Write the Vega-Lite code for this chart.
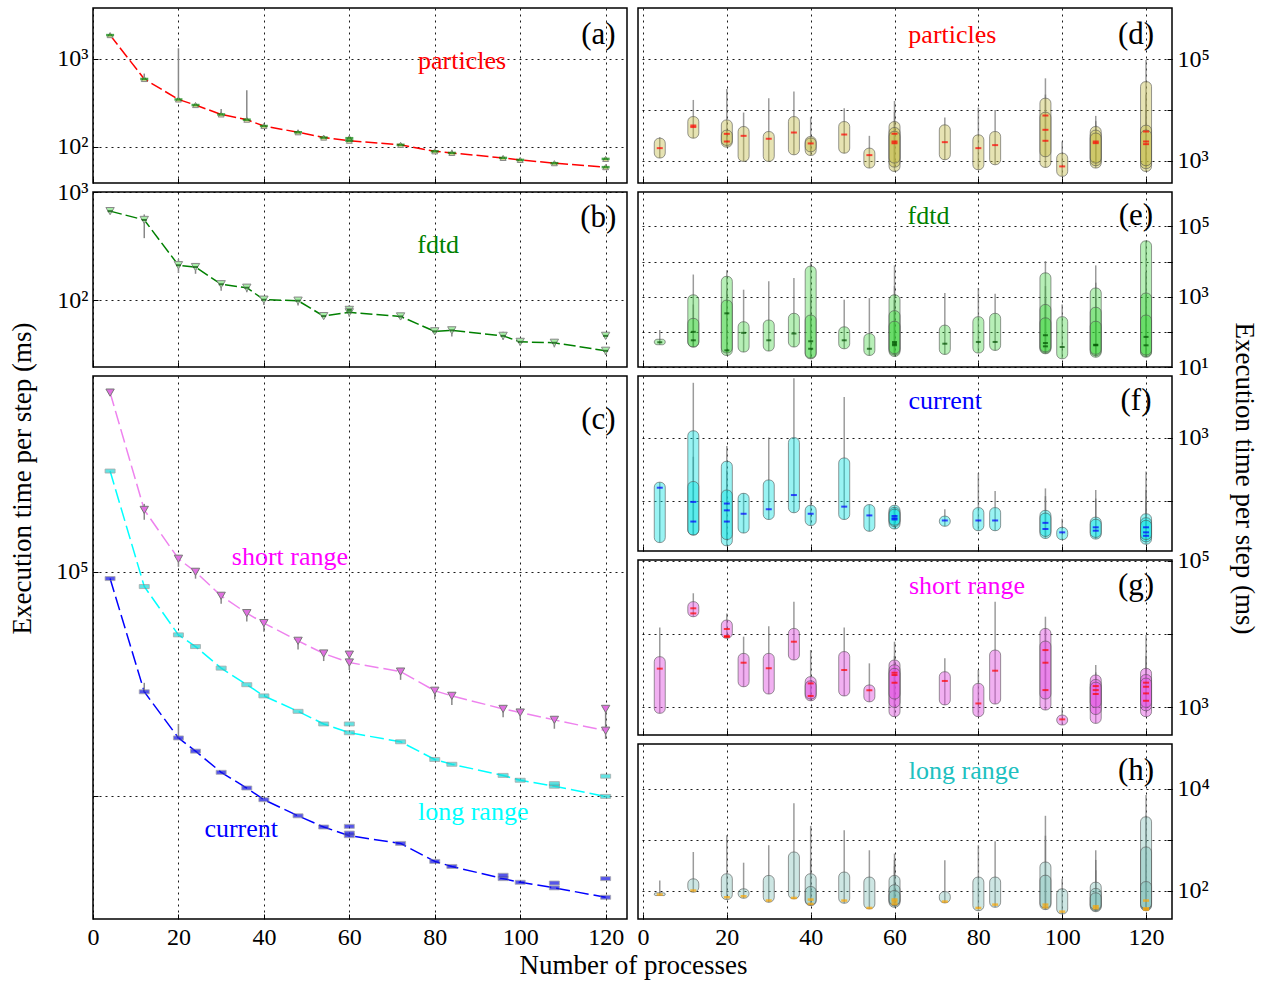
{
 "$schema": "https://vega.github.io/schema/vega-lite/v6.json",
 "background": "white",
 "padding": {"left": 8, "top": 7, "right": 5, "bottom": 2},
 "config": {
  "font": "Liberation Serif",
  "view": {"stroke": "#000", "strokeWidth": 1.5},
  "axis": {"labelFont": "Liberation Serif", "labelFontSize": 24, "labelColor": "#000", "grid": true, "gridColor": "#000", "gridDash": [2, 4], "gridWidth": 1, "gridOpacity": 0.9, "domain": false, "tickColor": "#000", "tickSize": -5, "tickWidth": 1, "labelPadding": 10, "labelOverlap": false, "labelFlush": false},
  "axisX": {"labelPadding": 11},
  "title": {"font": "Liberation Serif", "fontSize": 27, "fontWeight": "normal", "color": "#000"}
 },
 "datasets": {
  "lmed": [
   {"p":"a","s":"particles","x":4,"m":1865},{"p":"a","s":"particles","x":12,"m":590},{"p":"a","s":"particles","x":20,"m":345},{"p":"a","s":"particles","x":24,"m":298},{"p":"a","s":"particles","x":30,"m":233},{"p":"a","s":"particles","x":36,"m":203},{"p":"a","s":"particles","x":40,"m":172},{"p":"a","s":"particles","x":48,"m":146},{"p":"a","s":"particles","x":54,"m":127},{"p":"a","s":"particles","x":60,"m":117},{"p":"a","s":"particles","x":60,"m":125},{"p":"a","s":"particles","x":72,"m":105},{"p":"a","s":"particles","x":80,"m":88.6},{"p":"a","s":"particles","x":84,"m":84.9},{"p":"a","s":"particles","x":96,"m":74.5},{"p":"a","s":"particles","x":100,"m":70.7},{"p":"a","s":"particles","x":108,"m":64.9},{"p":"a","s":"particles","x":120,"m":58.5},{"p":"a","s":"particles","x":120,"m":72.6},
   {"p":"b","s":"fdtd","x":4,"m":665},{"p":"b","s":"fdtd","x":12,"m":551},{"p":"b","s":"fdtd","x":20,"m":210},{"p":"b","s":"fdtd","x":24,"m":202},{"p":"b","s":"fdtd","x":30,"m":140},{"p":"b","s":"fdtd","x":36,"m":130},{"p":"b","s":"fdtd","x":40,"m":100.7},{"p":"b","s":"fdtd","x":48,"m":98.6},{"p":"b","s":"fdtd","x":54,"m":71},{"p":"b","s":"fdtd","x":60,"m":81},{"p":"b","s":"fdtd","x":60,"m":77},{"p":"b","s":"fdtd","x":72,"m":70.5},{"p":"b","s":"fdtd","x":80,"m":51.3},{"p":"b","s":"fdtd","x":84,"m":52.4},{"p":"b","s":"fdtd","x":96,"m":46.6},{"p":"b","s":"fdtd","x":100,"m":41},{"p":"b","s":"fdtd","x":108,"m":40.2},{"p":"b","s":"fdtd","x":120,"m":33.9},{"p":"b","s":"fdtd","x":120,"m":46.6},
   {"p":"c","s":"short range","x":4,"m":625000},{"p":"c","s":"short range","x":12,"m":188000},{"p":"c","s":"short range","x":20,"m":114000},{"p":"c","s":"short range","x":24,"m":99700},{"p":"c","s":"short range","x":30,"m":78000},{"p":"c","s":"short range","x":36,"m":65300},{"p":"c","s":"short range","x":40,"m":59000},{"p":"c","s":"short range","x":48,"m":49200},{"p":"c","s":"short range","x":54,"m":43200},{"p":"c","s":"short range","x":60,"m":42700},{"p":"c","s":"short range","x":60,"m":39400},{"p":"c","s":"short range","x":72,"m":35900},{"p":"c","s":"short range","x":80,"m":29500},{"p":"c","s":"short range","x":84,"m":28000},{"p":"c","s":"short range","x":96,"m":24500},{"p":"c","s":"short range","x":100,"m":23600},{"p":"c","s":"short range","x":108,"m":21900},{"p":"c","s":"short range","x":120,"m":19600},{"p":"c","s":"short range","x":120,"m":24500},
   {"p":"c","s":"long range","x":4,"m":280000},{"p":"c","s":"long range","x":12,"m":85800},{"p":"c","s":"long range","x":20,"m":52300},{"p":"c","s":"long range","x":24,"m":46400},{"p":"c","s":"long range","x":30,"m":37200},{"p":"c","s":"long range","x":36,"m":31400},{"p":"c","s":"long range","x":40,"m":28000},{"p":"c","s":"long range","x":48,"m":23900},{"p":"c","s":"long range","x":54,"m":21000},{"p":"c","s":"long range","x":60,"m":19200},{"p":"c","s":"long range","x":60,"m":21000},{"p":"c","s":"long range","x":72,"m":17500},{"p":"c","s":"long range","x":80,"m":14600},{"p":"c","s":"long range","x":84,"m":13900},{"p":"c","s":"long range","x":96,"m":12400},{"p":"c","s":"long range","x":100,"m":11800},{"p":"c","s":"long range","x":108,"m":11100},{"p":"c","s":"long range","x":108,"m":11400},{"p":"c","s":"long range","x":120,"m":10000},{"p":"c","s":"long range","x":120,"m":12300},
   {"p":"c","s":"current","x":4,"m":93100},{"p":"c","s":"current","x":12,"m":29200},{"p":"c","s":"current","x":20,"m":18200},{"p":"c","s":"current","x":24,"m":15900},{"p":"c","s":"current","x":30,"m":12800},{"p":"c","s":"current","x":36,"m":10900},{"p":"c","s":"current","x":40,"m":9670},{"p":"c","s":"current","x":48,"m":8200},{"p":"c","s":"current","x":54,"m":7310},{"p":"c","s":"current","x":60,"m":6690},{"p":"c","s":"current","x":60,"m":6870},{"p":"c","s":"current","x":60,"m":7360},{"p":"c","s":"current","x":72,"m":6180},{"p":"c","s":"current","x":80,"m":5140},{"p":"c","s":"current","x":84,"m":4880},{"p":"c","s":"current","x":96,"m":4310},{"p":"c","s":"current","x":96,"m":4460},{"p":"c","s":"current","x":100,"m":4150},{"p":"c","s":"current","x":108,"m":3920},{"p":"c","s":"current","x":108,"m":4120},{"p":"c","s":"current","x":120,"m":3560},{"p":"c","s":"current","x":120,"m":4310}
  ],
  "ltail": [
   {"p":"a","x":12,"lo":580,"hi":680},{"p":"a","x":20,"lo":330,"hi":1320},{"p":"a","x":30,"lo":230,"hi":268},{"p":"a","x":36,"lo":195,"hi":440},{"p":"a","x":60,"lo":115,"hi":132},{"p":"a","x":84,"lo":84,"hi":92},
   {"p":"b","x":12,"lo":374,"hi":620},{"p":"b","x":20,"lo":178,"hi":240},{"p":"b","x":24,"lo":175,"hi":210},{"p":"b","x":30,"lo":122,"hi":145},{"p":"b","x":36,"lo":118,"hi":140},{"p":"b","x":40,"lo":90,"hi":106},{"p":"b","x":48,"lo":89,"hi":103},{"p":"b","x":54,"lo":67,"hi":74},{"p":"b","x":60,"lo":70,"hi":90},{"p":"b","x":72,"lo":66,"hi":76},{"p":"b","x":80,"lo":49,"hi":54},{"p":"b","x":84,"lo":46,"hi":56},{"p":"b","x":96,"lo":43,"hi":51},{"p":"b","x":100,"lo":38,"hi":44},{"p":"b","x":108,"lo":36.5,"hi":43},{"p":"b","x":120,"lo":31,"hi":36},
   {"p":"c","x":12,"lo":170000,"hi":200000},{"p":"c","x":20,"lo":105000,"hi":118000},{"p":"c","x":24,"lo":93000,"hi":101000},{"p":"c","x":30,"lo":72000,"hi":80000},{"p":"c","x":36,"lo":60000,"hi":66000},{"p":"c","x":40,"lo":54000,"hi":60000},{"p":"c","x":48,"lo":45000,"hi":50000},{"p":"c","x":54,"lo":40000,"hi":44000},{"p":"c","x":60,"lo":36500,"hi":43500},{"p":"c","x":72,"lo":33000,"hi":36500},{"p":"c","x":80,"lo":27000,"hi":30000},{"p":"c","x":84,"lo":25500,"hi":28500},{"p":"c","x":96,"lo":22500,"hi":25000},{"p":"c","x":100,"lo":22000,"hi":24000},{"p":"c","x":108,"lo":20000,"hi":22500},{"p":"c","x":120,"lo":18000,"hi":25000},{"p":"c","x":20,"lo":18000,"hi":21000},{"p":"c","x":12,"lo":29000,"hi":32000}
  ],
  "vio": [
   {"p":"d","x":4,"lo":1130,"hi":2780,"top":2900},{"p":"d","x":12,"lo":2780,"hi":7400,"top":15700},{"p":"d","x":20,"lo":1850,"hi":6360,"top":25900},{"p":"d","x":20,"lo":2000,"hi":4000,"top":4000},{"p":"d","x":24,"lo":970,"hi":4710,"top":8860},{"p":"d","x":30,"lo":970,"hi":3760,"top":17000},{"p":"d","x":36,"lo":1310,"hi":7400,"top":22900},{"p":"d","x":40,"lo":1270,"hi":3000,"top":7180},{"p":"d","x":40,"lo":1500,"hi":2800,"top":2800},{"p":"d","x":48,"lo":1410,"hi":5900,"top":10800},{"p":"d","x":54,"lo":718,"hi":1770,"top":3090},{"p":"d","x":60,"lo":616,"hi":5900,"top":15000},{"p":"d","x":60,"lo":750,"hi":4500,"top":9000},{"p":"d","x":60,"lo":900,"hi":3800,"top":6000},{"p":"d","x":72,"lo":1050,"hi":5080,"top":7070},{"p":"d","x":80,"lo":666,"hi":3230,"top":11100},{"p":"d","x":84,"lo":835,"hi":3760,"top":10000},{"p":"d","x":96,"lo":740,"hi":17000,"top":41800},{"p":"d","x":96,"lo":1200,"hi":9000,"top":20000},{"p":"d","x":100,"lo":493,"hi":1410,"top":2390},{"p":"d","x":108,"lo":718,"hi":4710,"top":7620},{"p":"d","x":108,"lo":800,"hi":4000,"top":6000},{"p":"d","x":108,"lo":900,"hi":3500,"top":5000},{"p":"d","x":120,"lo":616,"hi":36000,"top":95600},{"p":"d","x":120,"lo":700,"hi":5000,"top":20000},{"p":"d","x":120,"lo":800,"hi":4000,"top":10000},
   {"p":"e","x":4,"lo":43,"hi":61.5,"top":112},{"p":"e","x":12,"lo":37,"hi":1130,"top":4270},{"p":"e","x":12,"lo":37,"hi":242,"top":600},{"p":"e","x":20,"lo":21.3,"hi":3800,"top":5690},{"p":"e","x":20,"lo":25,"hi":800,"top":1500},{"p":"e","x":24,"lo":26.6,"hi":194,"top":1580},{"p":"e","x":30,"lo":28.4,"hi":217,"top":2750},{"p":"e","x":36,"lo":37,"hi":336,"top":3420},{"p":"e","x":40,"lo":17.1,"hi":7400,"top":9250},{"p":"e","x":40,"lo":18,"hi":300,"top":1000},{"p":"e","x":48,"lo":33,"hi":139,"top":815},{"p":"e","x":54,"lo":21.3,"hi":89.5,"top":910},{"p":"e","x":60,"lo":20,"hi":1130,"top":7760},{"p":"e","x":60,"lo":22,"hi":400,"top":2000},{"p":"e","x":60,"lo":24,"hi":200,"top":800},{"p":"e","x":72,"lo":22.8,"hi":155,"top":1270},{"p":"e","x":80,"lo":24.9,"hi":270,"top":1770},{"p":"e","x":84,"lo":29.7,"hi":336,"top":1210},{"p":"e","x":96,"lo":23.8,"hi":4770,"top":10300},{"p":"e","x":96,"lo":25,"hi":600,"top":2000},{"p":"e","x":96,"lo":27,"hi":250,"top":900},{"p":"e","x":100,"lo":17.1,"hi":270,"top":600},{"p":"e","x":108,"lo":19,"hi":1770,"top":7760},{"p":"e","x":108,"lo":21,"hi":500,"top":2500},{"p":"e","x":108,"lo":23,"hi":200,"top":900},{"p":"e","x":120,"lo":19,"hi":38800,"top":38800},{"p":"e","x":120,"lo":20,"hi":1270,"top":5000},{"p":"e","x":120,"lo":22,"hi":300,"top":1000},
   {"p":"f","x":4,"lo":22.4,"hi":199,"top":199},{"p":"f","x":12,"lo":29.4,"hi":1280,"top":7260},{"p":"f","x":12,"lo":29.4,"hi":204,"top":500},{"p":"f","x":20,"lo":19.9,"hi":425,"top":736},{"p":"f","x":20,"lo":25,"hi":150,"top":300},{"p":"f","x":24,"lo":31.6,"hi":133,"top":133},{"p":"f","x":30,"lo":51.6,"hi":216,"top":1000},{"p":"f","x":36,"lo":65.9,"hi":1000,"top":8530},{"p":"f","x":40,"lo":41.4,"hi":86.3,"top":113},{"p":"f","x":48,"lo":51.6,"hi":479,"top":4350},{"p":"f","x":54,"lo":33.7,"hi":88.5,"top":88.5},{"p":"f","x":60,"lo":36.6,"hi":86.3,"top":86.3},{"p":"f","x":60,"lo":40,"hi":80,"top":80},{"p":"f","x":60,"lo":42,"hi":75,"top":75},{"p":"f","x":72,"lo":40.4,"hi":58.3,"top":74.5},{"p":"f","x":80,"lo":34.4,"hi":79.4,"top":276},{"p":"f","x":84,"lo":34.4,"hi":79.4,"top":145},{"p":"f","x":96,"lo":26,"hi":71.8,"top":159},{"p":"f","x":96,"lo":28,"hi":65,"top":120},{"p":"f","x":100,"lo":24.8,"hi":38.9,"top":52.8},{"p":"f","x":108,"lo":25.4,"hi":56.2,"top":150},{"p":"f","x":108,"lo":27,"hi":52,"top":110},{"p":"f","x":120,"lo":21.1,"hi":63.5,"top":294},{"p":"f","x":120,"lo":23,"hi":55,"top":150},{"p":"f","x":120,"lo":25,"hi":50,"top":100},
   {"p":"g","x":4,"lo":829,"hi":4910,"top":12300},{"p":"g","x":12,"lo":17200,"hi":27600,"top":35900},{"p":"g","x":20,"lo":8730,"hi":15500,"top":19100},{"p":"g","x":24,"lo":1910,"hi":5440,"top":9200},{"p":"g","x":30,"lo":1520,"hi":5440,"top":12800},{"p":"g","x":36,"lo":4420,"hi":11900,"top":27600},{"p":"g","x":40,"lo":1230,"hi":2620,"top":6040},{"p":"g","x":40,"lo":1300,"hi":2300,"top":2300},{"p":"g","x":48,"lo":1430,"hi":5760,"top":12300},{"p":"g","x":54,"lo":1190,"hi":2020,"top":3980},{"p":"g","x":60,"lo":747,"hi":4420,"top":7850},{"p":"g","x":60,"lo":1000,"hi":3800,"top":5000},{"p":"g","x":60,"lo":1300,"hi":3400,"top":4200},{"p":"g","x":72,"lo":1080,"hi":3060,"top":4660},{"p":"g","x":80,"lo":747,"hi":2120,"top":3230},{"p":"g","x":84,"lo":1110,"hi":6040,"top":27600},{"p":"g","x":96,"lo":920,"hi":11900,"top":17200},{"p":"g","x":96,"lo":1300,"hi":8000,"top":11900},{"p":"g","x":100,"lo":574,"hi":786,"top":1000},{"p":"g","x":108,"lo":605,"hi":2760,"top":3780},{"p":"g","x":108,"lo":800,"hi":2400,"top":3000},{"p":"g","x":108,"lo":1000,"hi":2200,"top":2600},{"p":"g","x":120,"lo":747,"hi":3400,"top":9680},{"p":"g","x":120,"lo":900,"hi":2800,"top":5000},{"p":"g","x":120,"lo":1000,"hi":2500,"top":3500},
   {"p":"h","x":4,"lo":79.6,"hi":89.9,"top":158},{"p":"h","x":12,"lo":92.7,"hi":170,"top":574},{"p":"h","x":20,"lo":66.4,"hi":214,"top":1230},{"p":"h","x":24,"lo":70.5,"hi":108,"top":353},{"p":"h","x":30,"lo":58.8,"hi":198,"top":778},{"p":"h","x":36,"lo":68.4,"hi":574,"top":5200},{"p":"h","x":40,"lo":50.5,"hi":214,"top":1880},{"p":"h","x":40,"lo":52,"hi":120,"top":400},{"p":"h","x":48,"lo":56.2,"hi":231,"top":1540},{"p":"h","x":54,"lo":43.4,"hi":184,"top":620},{"p":"h","x":60,"lo":46.8,"hi":198,"top":532},{"p":"h","x":60,"lo":50,"hi":130,"top":400},{"p":"h","x":60,"lo":52,"hi":100,"top":300},{"p":"h","x":72,"lo":57,"hi":95.5,"top":393},{"p":"h","x":80,"lo":40.1,"hi":184,"top":778},{"p":"h","x":84,"lo":46.8,"hi":184,"top":934},{"p":"h","x":96,"lo":42.1,"hi":364,"top":2960},{"p":"h","x":96,"lo":45,"hi":200,"top":1200},{"p":"h","x":100,"lo":34.5,"hi":108,"top":170},{"p":"h","x":108,"lo":38.4,"hi":146,"top":620},{"p":"h","x":108,"lo":40,"hi":110,"top":400},{"p":"h","x":108,"lo":42,"hi":90,"top":250},{"p":"h","x":120,"lo":40,"hi":2830,"top":7600},{"p":"h","x":120,"lo":42,"hi":721,"top":3000},{"p":"h","x":120,"lo":44,"hi":150,"top":721}
  ],
  "med": [
   {"p":"d","x":4,"m":1770},{"p":"d","x":12,"m":4940},{"p":"d","x":12,"m":4600},{"p":"d","x":20,"m":3380},{"p":"d","x":20,"m":2390},{"p":"d","x":24,"m":3090},{"p":"d","x":30,"m":2700},{"p":"d","x":36,"m":3590},{"p":"d","x":40,"m":2190},{"p":"d","x":48,"m":3280},{"p":"d","x":54,"m":1290},{"p":"d","x":60,"m":3380},{"p":"d","x":60,"m":2390},{"p":"d","x":60,"m":2220},{"p":"d","x":72,"m":2320},{"p":"d","x":80,"m":1770},{"p":"d","x":84,"m":2030},{"p":"d","x":96,"m":7750},{"p":"d","x":96,"m":4060},{"p":"d","x":96,"m":2470},{"p":"d","x":100,"m":774},{"p":"d","x":108,"m":2390},{"p":"d","x":108,"m":2220},{"p":"d","x":120,"m":3760},{"p":"d","x":120,"m":2390},{"p":"d","x":120,"m":2120},
   {"p":"e","x":4,"m":50.5},{"p":"e","x":12,"m":100},{"p":"e","x":12,"m":57.5},{"p":"e","x":20,"m":336},{"p":"e","x":20,"m":29.7},{"p":"e","x":24,"m":93.6},{"p":"e","x":30,"m":57.5},{"p":"e","x":36,"m":89.5},{"p":"e","x":40,"m":54},{"p":"e","x":40,"m":33},{"p":"e","x":48,"m":57.5},{"p":"e","x":54,"m":33},{"p":"e","x":60,"m":51.6},{"p":"e","x":60,"m":46},{"p":"e","x":60,"m":41.4},{"p":"e","x":72,"m":46},{"p":"e","x":80,"m":51.6},{"p":"e","x":84,"m":51.6},{"p":"e","x":96,"m":80},{"p":"e","x":96,"m":48},{"p":"e","x":96,"m":38.7},{"p":"e","x":100,"m":37},{"p":"e","x":108,"m":41.4},{"p":"e","x":108,"m":43},{"p":"e","x":120,"m":71.8},{"p":"e","x":120,"m":41.4},
   {"p":"f","x":4,"m":163},{"p":"f","x":12,"m":97.5},{"p":"f","x":12,"m":47.9},{"p":"f","x":20,"m":91.9},{"p":"f","x":20,"m":71.8},{"p":"f","x":20,"m":47.9},{"p":"f","x":24,"m":63.5},{"p":"f","x":30,"m":74.5},{"p":"f","x":36,"m":125},{"p":"f","x":40,"m":63.5},{"p":"f","x":48,"m":82.2},{"p":"f","x":54,"m":59.8},{"p":"f","x":60,"m":58.3},{"p":"f","x":60,"m":54.2},{"p":"f","x":60,"m":51.6},{"p":"f","x":72,"m":49.8},{"p":"f","x":80,"m":49.8},{"p":"f","x":84,"m":49.8},{"p":"f","x":96,"m":45.7},{"p":"f","x":96,"m":36.6},{"p":"f","x":100,"m":32.4},{"p":"f","x":108,"m":38.9},{"p":"f","x":108,"m":34.4},{"p":"f","x":120,"m":38.9},{"p":"f","x":120,"m":32.4},{"p":"f","x":120,"m":28.6},
   {"p":"g","x":4,"m":3370},{"p":"g","x":12,"m":22400},{"p":"g","x":12,"m":19100},{"p":"g","x":20,"m":11700},{"p":"g","x":20,"m":9400},{"p":"g","x":20,"m":9100},{"p":"g","x":24,"m":4060},{"p":"g","x":30,"m":3400},{"p":"g","x":36,"m":7850},{"p":"g","x":40,"m":2120},{"p":"g","x":40,"m":1430},{"p":"g","x":48,"m":3230},{"p":"g","x":54,"m":1710},{"p":"g","x":60,"m":2970},{"p":"g","x":60,"m":2760},{"p":"g","x":60,"m":2170},{"p":"g","x":72,"m":2290},{"p":"g","x":80,"m":1130},{"p":"g","x":84,"m":3160},{"p":"g","x":96,"m":6040},{"p":"g","x":96,"m":4060},{"p":"g","x":96,"m":1720},{"p":"g","x":100,"m":686},{"p":"g","x":108,"m":1950},{"p":"g","x":108,"m":1720},{"p":"g","x":108,"m":1520},{"p":"g","x":120,"m":2170},{"p":"g","x":120,"m":1910},{"p":"g","x":120,"m":1550},{"p":"g","x":120,"m":1230},
   {"p":"h","x":4,"m":83.4},{"p":"h","x":12,"m":100},{"p":"h","x":20,"m":73.8},{"p":"h","x":24,"m":77.2},{"p":"h","x":30,"m":63.4},{"p":"h","x":36,"m":71.5},{"p":"h","x":40,"m":66.4},{"p":"h","x":40,"m":54.5},{"p":"h","x":48,"m":63.4},{"p":"h","x":54,"m":45.4},{"p":"h","x":60,"m":66.4},{"p":"h","x":60,"m":60.6},{"p":"h","x":60,"m":54.5},{"p":"h","x":72,"m":60.6},{"p":"h","x":80,"m":45.4},{"p":"h","x":84,"m":52.8},{"p":"h","x":96,"m":52.8},{"p":"h","x":96,"m":46.8},{"p":"h","x":100,"m":38.4},{"p":"h","x":108,"m":48.9},{"p":"h","x":108,"m":44.7},{"p":"h","x":120,"m":63.4},{"p":"h","x":120,"m":44.7},{"p":"h","x":120,"m":42.1}
  ]
 },
 "title": {"text": "Number of processes", "orient": "bottom", "anchor": "middle", "offset": 3},
 "spacing": 8,
 "hconcat": [
  {
   "title": {"text": "Execution time per step (ms)", "orient": "left", "anchor": "middle", "offset": 18},
   "bounds": "flush",
   "spacing": 9,
   "vconcat": [
    {
     "width": 534, "height": 175,
     "layer": [
      {"data": {"name": "lmed"}, "transform": [{"filter": "datum.p == 'a'"}, {"aggregate": [{"op": "min", "field": "m", "as": "m"}], "groupby": ["x"]}],
       "mark": {"type": "line", "color": "#ff0000", "strokeWidth": 1.5, "strokeDash": [12, 4]},
       "encoding": {
        "x": {"field": "x", "type": "quantitative", "scale": {"domain": [0, 125], "nice": false, "zero": false}, "axis": {"values": [0, 20, 40, 60, 80, 100, 120], "labels": false, "title": null}},
        "y": {"field": "m", "type": "quantitative", "scale": {"type": "log", "domain": [38.6, 3795], "nice": false}, "axis": {"values": [100, 1000], "labelExpr": "datum.value > 500 ? '10³' : '10²'", "title": null}}
       }},
      {"data": {"name": "ltail"}, "transform": [{"filter": "datum.p == 'a'"}],
       "mark": {"type": "rule", "color": "#888888", "strokeWidth": 1.5},
       "encoding": {"x": {"field": "x", "type": "quantitative", "axis": {"title": null}}, "y": {"field": "lo", "type": "quantitative", "scale": {"type": "log"}, "axis": {"title": null}}, "y2": {"field": "hi"}}},
      {"data": {"name": "lmed"}, "transform": [{"filter": "datum.p == 'a'"}],
       "mark": {"type": "point", "shape": "triangle-up", "filled": true, "fill": "#e8e2a0", "stroke": "#888888", "strokeWidth": 1, "size": 35, "opacity": 1},
       "encoding": {"x": {"field": "x", "type": "quantitative", "axis": {"title": null}}, "y": {"field": "m", "type": "quantitative", "scale": {"type": "log"}, "axis": {"title": null}}}},
      {"data": {"name": "lmed"}, "transform": [{"filter": "datum.p == 'a'"}],
       "mark": {"type": "tick", "orient": "horizontal", "color": "#008000", "size": 8, "thickness": 2.5},
       "encoding": {"x": {"field": "x", "type": "quantitative", "axis": {"title": null}}, "y": {"field": "m", "type": "quantitative", "scale": {"type": "log"}, "axis": {"title": null}}}},
      {"data": {"values": [{}]}, "mark": {"type": "text", "text": "(a)", "font": "Liberation Serif", "fontSize": 31, "color": "#000", "align": "center", "baseline": "middle"},
       "encoding": {"x": {"datum": 118.3, "type": "quantitative"}, "y": {"datum": 1860, "type": "quantitative"}}},
      {"data": {"values": [{}]}, "mark": {"type": "text", "text": "particles", "font": "Liberation Serif", "fontSize": 26, "color": "#ff0000", "align": "center", "baseline": "middle"},
       "encoding": {"x": {"datum": 86.4, "type": "quantitative"}, "y": {"datum": 935, "type": "quantitative"}}}
     ]
    },
    {
     "width": 534, "height": 175,
     "layer": [
      {"data": {"name": "lmed"}, "transform": [{"filter": "datum.p == 'b'"}, {"aggregate": [{"op": "min", "field": "m", "as": "m"}], "groupby": ["x"]}],
       "mark": {"type": "line", "color": "#008000", "strokeWidth": 1.5, "strokeDash": [12, 4]},
       "encoding": {
        "x": {"field": "x", "type": "quantitative", "scale": {"domain": [0, 125], "nice": false, "zero": false}, "axis": {"values": [0, 20, 40, 60, 80, 100, 120], "labels": false, "title": null}},
        "y": {"field": "m", "type": "quantitative", "scale": {"type": "log", "domain": [24, 1000], "nice": false}, "axis": {"values": [100, 1000], "labelExpr": "datum.value > 500 ? '10³' : '10²'", "title": null}}
       }},
      {"data": {"name": "ltail"}, "transform": [{"filter": "datum.p == 'b'"}],
       "mark": {"type": "rule", "color": "#888888", "strokeWidth": 1.5},
       "encoding": {"x": {"field": "x", "type": "quantitative", "axis": {"title": null}}, "y": {"field": "lo", "type": "quantitative", "scale": {"type": "log"}, "axis": {"title": null}}, "y2": {"field": "hi"}}},
      {"data": {"name": "lmed"}, "transform": [{"filter": "datum.p == 'b'"}],
       "mark": {"type": "point", "shape": "triangle-down", "filled": true, "fill": "#a8eea8", "stroke": "#888888", "strokeWidth": 1, "size": 70, "opacity": 1},
       "encoding": {"x": {"field": "x", "type": "quantitative", "axis": {"title": null}}, "y": {"field": "m", "type": "quantitative", "scale": {"type": "log"}, "axis": {"title": null}}}},
      {"data": {"name": "lmed"}, "transform": [{"filter": "datum.p == 'b'"}],
       "mark": {"type": "tick", "orient": "horizontal", "color": "#005000", "size": 5, "thickness": 2},
       "encoding": {"x": {"field": "x", "type": "quantitative", "axis": {"title": null}}, "y": {"field": "m", "type": "quantitative", "scale": {"type": "log"}, "axis": {"title": null}}}},
      {"data": {"values": [{}]}, "mark": {"type": "text", "text": "(b)", "font": "Liberation Serif", "fontSize": 31, "color": "#000", "align": "center", "baseline": "middle"},
       "encoding": {"x": {"datum": 118.3, "type": "quantitative"}, "y": {"datum": 575, "type": "quantitative"}}},
      {"data": {"values": [{}]}, "mark": {"type": "text", "text": "fdtd", "font": "Liberation Serif", "fontSize": 26, "color": "#008000", "align": "center", "baseline": "middle"},
       "encoding": {"x": {"datum": 80.8, "type": "quantitative"}, "y": {"datum": 320, "type": "quantitative"}}}
     ]
    },
    {
     "width": 534, "height": 543,
     "layer": [
      {"data": {"name": "lmed"}, "transform": [{"filter": "datum.p == 'c'"}, {"aggregate": [{"op": "min", "field": "m", "as": "m"}], "groupby": ["s", "x"]}],
       "mark": {"type": "line", "strokeWidth": 1.5, "strokeDash": [14, 5]},
       "encoding": {
        "x": {"field": "x", "type": "quantitative", "scale": {"domain": [0, 125], "nice": false, "zero": false}, "axis": {"values": [0, 20, 40, 60, 80, 100, 120], "title": null}},
        "y": {"field": "m", "type": "quantitative", "scale": {"type": "log", "domain": [2850, 741000], "nice": false}, "axis": {"values": [10000, 100000], "labelExpr": "datum.value > 50000 ? '10⁵' : ''", "title": null}},
        "color": {"field": "s", "type": "nominal", "scale": {"domain": ["short range", "long range", "current"], "range": ["#ee82ee", "#00ffff", "#0000ff"]}, "legend": null}
       }},
      {"data": {"name": "ltail"}, "transform": [{"filter": "datum.p == 'c'"}],
       "mark": {"type": "rule", "color": "#888888", "strokeWidth": 1.5},
       "encoding": {"x": {"field": "x", "type": "quantitative", "axis": {"title": null}}, "y": {"field": "lo", "type": "quantitative", "scale": {"type": "log"}, "axis": {"title": null}}, "y2": {"field": "hi"}}},
      {"data": {"name": "lmed"}, "transform": [{"filter": "datum.p == 'c' && datum.s == 'short range'"}],
       "mark": {"type": "point", "shape": "triangle-down", "filled": true, "fill": "#e070e0", "stroke": "#777777", "strokeWidth": 1, "size": 70, "opacity": 1},
       "encoding": {"x": {"field": "x", "type": "quantitative", "axis": {"title": null}}, "y": {"field": "m", "type": "quantitative", "scale": {"type": "log"}, "axis": {"title": null}}}},
      {"data": {"name": "lmed"}, "transform": [{"filter": "datum.p == 'c' && datum.s == 'long range'"}],
       "mark": {"type": "tick", "orient": "horizontal", "color": "#20d8d8", "size": 10, "thickness": 4, "stroke": "#888888", "strokeWidth": 0.8},
       "encoding": {"x": {"field": "x", "type": "quantitative", "axis": {"title": null}}, "y": {"field": "m", "type": "quantitative", "scale": {"type": "log"}, "axis": {"title": null}}}},
      {"data": {"name": "lmed"}, "transform": [{"filter": "datum.p == 'c' && datum.s == 'current'"}],
       "mark": {"type": "tick", "orient": "horizontal", "color": "#1010e0", "size": 10, "thickness": 4, "stroke": "#888888", "strokeWidth": 0.8},
       "encoding": {"x": {"field": "x", "type": "quantitative", "axis": {"title": null}}, "y": {"field": "m", "type": "quantitative", "scale": {"type": "log"}, "axis": {"title": null}}}},
      {"data": {"values": [{}]}, "mark": {"type": "text", "text": "(c)", "font": "Liberation Serif", "fontSize": 31, "color": "#000", "align": "center", "baseline": "middle"},
       "encoding": {"x": {"datum": 118.3, "type": "quantitative"}, "y": {"datum": 472000, "type": "quantitative"}}},
      {"data": {"values": [{}]}, "mark": {"type": "text", "text": "short range", "font": "Liberation Serif", "fontSize": 26, "color": "#ff00ff", "align": "center", "baseline": "middle"},
       "encoding": {"x": {"datum": 46.1, "type": "quantitative"}, "y": {"datum": 116000, "type": "quantitative"}}},
      {"data": {"values": [{}]}, "mark": {"type": "text", "text": "long range", "font": "Liberation Serif", "fontSize": 26, "color": "#00ffff", "align": "center", "baseline": "middle"},
       "encoding": {"x": {"datum": 89, "type": "quantitative"}, "y": {"datum": 8490, "type": "quantitative"}}},
      {"data": {"values": [{}]}, "mark": {"type": "text", "text": "current", "font": "Liberation Serif", "fontSize": 26, "color": "#0000ff", "align": "center", "baseline": "middle"},
       "encoding": {"x": {"datum": 34.7, "type": "quantitative"}, "y": {"datum": 7190, "type": "quantitative"}}}
     ]
    }
   ]
  },
  {
   "title": {"text": "Execution time per step (ms)", "orient": "right", "anchor": "middle", "offset": 20},
   "bounds": "flush",
   "spacing": 9,
   "vconcat": [
    {
     "width": 534, "height": 175,
     "layer": [
      {"data": {"name": "vio"}, "transform": [{"filter": "datum.p == 'd'"}],
       "mark": {"type": "rule", "color": "#707070", "strokeWidth": 1.5, "opacity": 0.7},
       "encoding": {
        "x": {"field": "x", "type": "quantitative", "scale": {"domain": [0, 125], "nice": false, "zero": false}, "axis": {"values": [0, 20, 40, 60, 80, 100, 120], "labels": false, "title": null}},
        "y": {"field": "lo", "type": "quantitative", "scale": {"type": "log", "domain": [365, 1010000], "nice": false}, "axis": {"orient": "right", "values": [1000, 10000, 100000], "labelExpr": "datum.value > 50000 ? '10⁵' : datum.value > 5000 ? '' : '10³'", "title": null}},
        "y2": {"field": "top"}
       }},
      {"data": {"name": "vio"}, "transform": [{"filter": "datum.p == 'd'"}],
       "mark": {"type": "bar", "size": 11, "cornerRadius": 5, "fill": "#c0b840", "fillOpacity": 0.4, "stroke": "#555555", "strokeOpacity": 0.6, "strokeWidth": 1},
       "encoding": {"x": {"field": "x", "type": "quantitative", "axis": {"title": null}}, "y": {"field": "lo", "type": "quantitative", "scale": {"type": "log"}, "axis": {"title": null}}, "y2": {"field": "hi"}}},
      {"data": {"name": "med"}, "transform": [{"filter": "datum.p == 'd'"}],
       "mark": {"type": "tick", "orient": "horizontal", "color": "#ff0000", "size": 6, "thickness": 2},
       "encoding": {"x": {"field": "x", "type": "quantitative", "axis": {"title": null}}, "y": {"field": "m", "type": "quantitative", "scale": {"type": "log"}, "axis": {"title": null}}}},
      {"data": {"values": [{}]}, "mark": {"type": "text", "text": "(d)", "font": "Liberation Serif", "fontSize": 31, "color": "#000", "align": "center", "baseline": "middle"},
       "encoding": {"x": {"datum": 117.6, "type": "quantitative"}, "y": {"datum": 295000, "type": "quantitative"}}},
      {"data": {"values": [{}]}, "mark": {"type": "text", "text": "particles", "font": "Liberation Serif", "fontSize": 26, "color": "#ff0000", "align": "center", "baseline": "middle"},
       "encoding": {"x": {"datum": 73.8, "type": "quantitative"}, "y": {"datum": 295000, "type": "quantitative"}}}
     ]
    },
    {
     "width": 534, "height": 175,
     "layer": [
      {"data": {"name": "vio"}, "transform": [{"filter": "datum.p == 'e'"}],
       "mark": {"type": "rule", "color": "#707070", "strokeWidth": 1.5, "opacity": 0.7},
       "encoding": {
        "x": {"field": "x", "type": "quantitative", "scale": {"domain": [0, 125], "nice": false, "zero": false}, "axis": {"values": [0, 20, 40, 60, 80, 100, 120], "labels": false, "title": null}},
        "y": {"field": "lo", "type": "quantitative", "scale": {"type": "log", "domain": [10, 950000], "nice": false}, "axis": {"orient": "right", "values": [10, 100, 1000, 10000, 100000], "labelExpr": "datum.value > 50000 ? '10⁵' : datum.value > 5000 ? '' : datum.value > 500 ? '10³' : datum.value > 50 ? '' : '10¹'", "title": null}},
        "y2": {"field": "top"}
       }},
      {"data": {"name": "vio"}, "transform": [{"filter": "datum.p == 'e'"}],
       "mark": {"type": "bar", "size": 11, "cornerRadius": 5, "fill": "#30d030", "fillOpacity": 0.35, "stroke": "#555555", "strokeOpacity": 0.6, "strokeWidth": 1},
       "encoding": {"x": {"field": "x", "type": "quantitative", "axis": {"title": null}}, "y": {"field": "lo", "type": "quantitative", "scale": {"type": "log"}, "axis": {"title": null}}, "y2": {"field": "hi"}}},
      {"data": {"name": "med"}, "transform": [{"filter": "datum.p == 'e'"}],
       "mark": {"type": "tick", "orient": "horizontal", "color": "#005000", "size": 5, "thickness": 2},
       "encoding": {"x": {"field": "x", "type": "quantitative", "axis": {"title": null}}, "y": {"field": "m", "type": "quantitative", "scale": {"type": "log"}, "axis": {"title": null}}}},
      {"data": {"values": [{}]}, "mark": {"type": "text", "text": "(e)", "font": "Liberation Serif", "fontSize": 31, "color": "#000", "align": "center", "baseline": "middle"},
       "encoding": {"x": {"datum": 117.6, "type": "quantitative"}, "y": {"datum": 198000, "type": "quantitative"}}},
      {"data": {"values": [{}]}, "mark": {"type": "text", "text": "fdtd", "font": "Liberation Serif", "fontSize": 26, "color": "#008000", "align": "center", "baseline": "middle"},
       "encoding": {"x": {"datum": 68.1, "type": "quantitative"}, "y": {"datum": 198000, "type": "quantitative"}}}
     ]
    },
    {
     "width": 534, "height": 175,
     "layer": [
      {"data": {"name": "vio"}, "transform": [{"filter": "datum.p == 'f'"}],
       "mark": {"type": "rule", "color": "#707070", "strokeWidth": 1.5, "opacity": 0.7},
       "encoding": {
        "x": {"field": "x", "type": "quantitative", "scale": {"domain": [0, 125], "nice": false, "zero": false}, "axis": {"values": [0, 20, 40, 60, 80, 100, 120], "labels": false, "title": null}},
        "y": {"field": "lo", "type": "quantitative", "scale": {"type": "log", "domain": [16.5, 9290], "nice": false}, "axis": {"orient": "right", "values": [100, 1000], "labelExpr": "datum.value > 500 ? '10³' : ''", "title": null}},
        "y2": {"field": "top"}
       }},
      {"data": {"name": "vio"}, "transform": [{"filter": "datum.p == 'f'"}],
       "mark": {"type": "bar", "size": 11, "cornerRadius": 5, "fill": "#00e0e0", "fillOpacity": 0.4, "stroke": "#555555", "strokeOpacity": 0.6, "strokeWidth": 1},
       "encoding": {"x": {"field": "x", "type": "quantitative", "axis": {"title": null}}, "y": {"field": "lo", "type": "quantitative", "scale": {"type": "log"}, "axis": {"title": null}}, "y2": {"field": "hi"}}},
      {"data": {"name": "med"}, "transform": [{"filter": "datum.p == 'f'"}],
       "mark": {"type": "tick", "orient": "horizontal", "color": "#0000ff", "size": 6, "thickness": 2},
       "encoding": {"x": {"field": "x", "type": "quantitative", "axis": {"title": null}}, "y": {"field": "m", "type": "quantitative", "scale": {"type": "log"}, "axis": {"title": null}}}},
      {"data": {"values": [{}]}, "mark": {"type": "text", "text": "(f)", "font": "Liberation Serif", "fontSize": 31, "color": "#000", "align": "center", "baseline": "middle"},
       "encoding": {"x": {"datum": 117.6, "type": "quantitative"}, "y": {"datum": 3800, "type": "quantitative"}}},
      {"data": {"values": [{}]}, "mark": {"type": "text", "text": "current", "font": "Liberation Serif", "fontSize": 26, "color": "#0000ff", "align": "center", "baseline": "middle"},
       "encoding": {"x": {"datum": 72.1, "type": "quantitative"}, "y": {"datum": 3800, "type": "quantitative"}}}
     ]
    },
    {
     "width": 534, "height": 175,
     "layer": [
      {"data": {"name": "vio"}, "transform": [{"filter": "datum.p == 'g'"}],
       "mark": {"type": "rule", "color": "#707070", "strokeWidth": 1.5, "opacity": 0.7},
       "encoding": {
        "x": {"field": "x", "type": "quantitative", "scale": {"domain": [0, 125], "nice": false, "zero": false}, "axis": {"values": [0, 20, 40, 60, 80, 100, 120], "labels": false, "title": null}},
        "y": {"field": "lo", "type": "quantitative", "scale": {"type": "log", "domain": [420, 102000], "nice": false}, "axis": {"orient": "right", "values": [1000, 10000, 100000], "labelExpr": "datum.value > 50000 ? '10⁵' : datum.value > 5000 ? '' : '10³'", "title": null}},
        "y2": {"field": "top"}
       }},
      {"data": {"name": "vio"}, "transform": [{"filter": "datum.p == 'g'"}],
       "mark": {"type": "bar", "size": 11, "cornerRadius": 5, "fill": "#e050e0", "fillOpacity": 0.45, "stroke": "#555555", "strokeOpacity": 0.6, "strokeWidth": 1},
       "encoding": {"x": {"field": "x", "type": "quantitative", "axis": {"title": null}}, "y": {"field": "lo", "type": "quantitative", "scale": {"type": "log"}, "axis": {"title": null}}, "y2": {"field": "hi"}}},
      {"data": {"name": "med"}, "transform": [{"filter": "datum.p == 'g'"}],
       "mark": {"type": "tick", "orient": "horizontal", "color": "#ff0000", "size": 6, "thickness": 2},
       "encoding": {"x": {"field": "x", "type": "quantitative", "axis": {"title": null}}, "y": {"field": "m", "type": "quantitative", "scale": {"type": "log"}, "axis": {"title": null}}}},
      {"data": {"values": [{}]}, "mark": {"type": "text", "text": "(g)", "font": "Liberation Serif", "fontSize": 31, "color": "#000", "align": "center", "baseline": "middle"},
       "encoding": {"x": {"datum": 117.6, "type": "quantitative"}, "y": {"datum": 45200, "type": "quantitative"}}},
      {"data": {"values": [{}]}, "mark": {"type": "text", "text": "short range", "font": "Liberation Serif", "fontSize": 26, "color": "#ff00ff", "align": "center", "baseline": "middle"},
       "encoding": {"x": {"datum": 77.3, "type": "quantitative"}, "y": {"datum": 45200, "type": "quantitative"}}}
     ]
    },
    {
     "width": 534, "height": 175,
     "layer": [
      {"data": {"name": "vio"}, "transform": [{"filter": "datum.p == 'h'"}],
       "mark": {"type": "rule", "color": "#707070", "strokeWidth": 1.5, "opacity": 0.7},
       "encoding": {
        "x": {"field": "x", "type": "quantitative", "scale": {"domain": [0, 125], "nice": false, "zero": false}, "axis": {"values": [0, 20, 40, 60, 80, 100, 120], "title": null}},
        "y": {"field": "lo", "type": "quantitative", "scale": {"type": "log", "domain": [27.5, 76700], "nice": false}, "axis": {"orient": "right", "values": [100, 1000, 10000], "labelExpr": "datum.value > 5000 ? '10⁴' : datum.value > 500 ? '' : '10²'", "title": null}},
        "y2": {"field": "top"}
       }},
      {"data": {"name": "vio"}, "transform": [{"filter": "datum.p == 'h'"}],
       "mark": {"type": "bar", "size": 11, "cornerRadius": 5, "fill": "#70b8b0", "fillOpacity": 0.35, "stroke": "#555555", "strokeOpacity": 0.6, "strokeWidth": 1},
       "encoding": {"x": {"field": "x", "type": "quantitative", "axis": {"title": null}}, "y": {"field": "lo", "type": "quantitative", "scale": {"type": "log"}, "axis": {"title": null}}, "y2": {"field": "hi"}}},
      {"data": {"name": "med"}, "transform": [{"filter": "datum.p == 'h'"}],
       "mark": {"type": "tick", "orient": "horizontal", "color": "#ffa500", "size": 6, "thickness": 2.5},
       "encoding": {"x": {"field": "x", "type": "quantitative", "axis": {"title": null}}, "y": {"field": "m", "type": "quantitative", "scale": {"type": "log"}, "axis": {"title": null}}}},
      {"data": {"values": [{}]}, "mark": {"type": "text", "text": "(h)", "font": "Liberation Serif", "fontSize": 31, "color": "#000", "align": "center", "baseline": "middle"},
       "encoding": {"x": {"datum": 117.6, "type": "quantitative"}, "y": {"datum": 22700, "type": "quantitative"}}},
      {"data": {"values": [{}]}, "mark": {"type": "text", "text": "long range", "font": "Liberation Serif", "fontSize": 26, "color": "#20c0c0", "align": "center", "baseline": "middle"},
       "encoding": {"x": {"datum": 76.6, "type": "quantitative"}, "y": {"datum": 22700, "type": "quantitative"}}}
     ]
    }
   ]
  }
 ]
}
